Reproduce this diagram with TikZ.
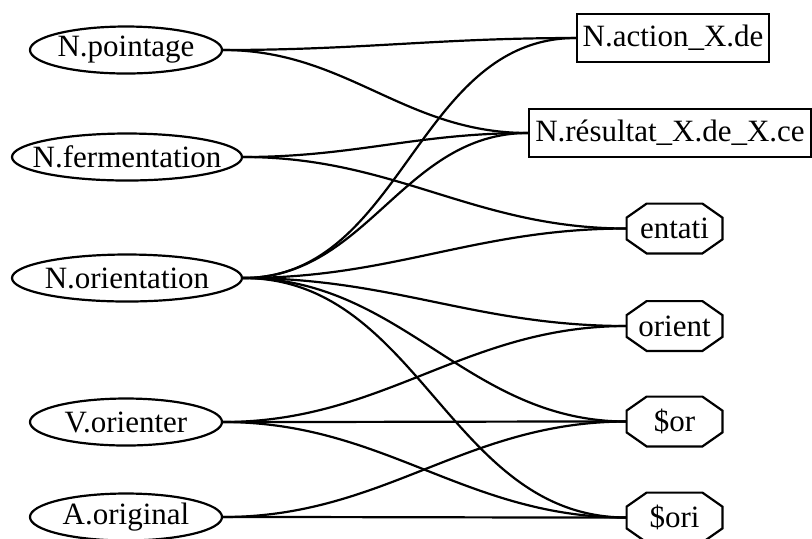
\documentclass[tikz,border=0pt]{standalone}
\usepackage{fontspec}
\setmainfont{Liberation Serif}
\usepackage{tikz}
\usetikzlibrary{shapes}
\tikzstyle{oval} = [ellipse, draw, line width=1.1pt, inner sep=0pt,
    minimum width=96pt, minimum height=23.5pt]
\tikzstyle{box} = [rectangle, draw, line width=1.1pt, inner sep=0pt,
    minimum width=96pt, minimum height=24pt]
\tikzstyle{octa} = [rectangle, inner sep=0pt, minimum width=47.5pt, minimum height=24.5pt,
    append after command={\pgfextra{\draw [line width=1.1pt, line join=miter]
      ([xshift=10pt]\tikzlastnode.north west) -- ([xshift=-10pt]\tikzlastnode.north east)
      -- ([yshift=-7pt]\tikzlastnode.north east) -- ([yshift=7pt]\tikzlastnode.south east)
      -- ([xshift=-10pt]\tikzlastnode.south east) -- ([xshift=10pt]\tikzlastnode.south west)
      -- ([yshift=7pt]\tikzlastnode.south west) -- ([yshift=-7pt]\tikzlastnode.north west)
      -- cycle;}}]
\tikzstyle{line} = [draw, line width=1.1pt, out=0, in=180]
\newcommand{\nowidth}[1]{\makebox[0pt]{#1}}

\begin{document}
\begin{tikzpicture}[x=0.5pt, y=-0.5pt, font=\fontsize{15.5}{18}\selectfont]
    \useasboundingbox (0,0) rectangle (812,538);
    % Place nodes
    \node [oval] (pointage) at (126,50) {\nowidth{N.pointage}};
    \node [oval, minimum width=115pt] (fermentation) at (127,157) {\nowidth{N.fermentation}};
    \node [oval, minimum width=115pt] (orientation) at (127,278) {\nowidth{N.orientation}};
    \node [oval] (orienter) at (126,422) {\nowidth{V.orienter}};
    \node [oval] (original) at (126,517) {\nowidth{A.original}};
    \node [box] (action) at (673,38) {N.action\_X.de};
    \node [box, minimum width=141pt] (resultat) at (670,133) {N.résultat\_X.de\_X.ce};
    \node [octa] (entati) at (674.5,228.5) {entati};
    \node [octa] (orient) at (674.5,326) {orient};
    \node [octa] (sor) at (674.5,421.5) {\$or};
    \node [octa] (sori) at (674.5,517.5) {\$ori};
    % Draw edges
    \path [line] (pointage.east) to (action.west);
    \path [line] (pointage.east) to (resultat.west);
    \path [line] (fermentation.east) to (resultat.west);
    \path [line] (fermentation.east) to (entati.west);
    \path [line] (orientation.east) to (action.west);
    \path [line] (orientation.east) to (resultat.west);
    \path [line] (orientation.east) to (entati.west);
    \path [line] (orientation.east) to (orient.west);
    \path [line] (orientation.east) to (sor.west);
    \path [line] (orientation.east) to (sori.west);
    \path [line] (orienter.east) to (orient.west);
    \path [line] (orienter.east) to (sor.west);
    \path [line] (orienter.east) to (sori.west);
    \path [line] (original.east) to (sor.west);
    \path [line] (original.east) to (sori.west);
\end{tikzpicture}
\end{document}
